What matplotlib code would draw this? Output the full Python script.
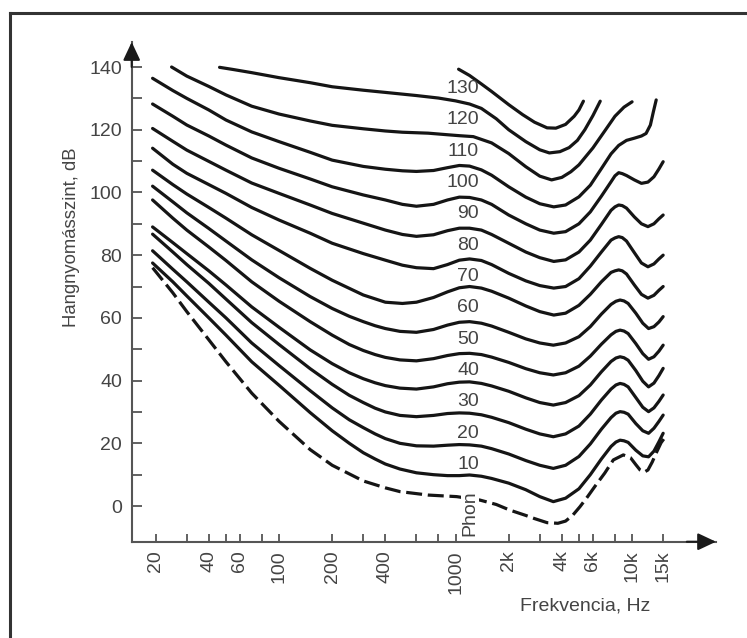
import matplotlib
matplotlib.use('Agg')
import matplotlib.pyplot as plt
from matplotlib.lines import Line2D

plt.rcParams['font.family'] = ['Liberation Sans', 'DejaVu Sans']

# equal loudness contours, frequency in Hz, level in dB
f140 = [1040, 1200, 1400, 1600, 2000, 2400, 2800, 3300, 3700, 4200, 4700, 5000, 5300]
db140 = [139.3, 137.3, 134.6, 132.2, 128, 124.8, 122.4, 120.6, 120.5, 121.7, 124.3, 126.3, 129.1]

f130 = [46, 55, 70, 100, 150, 200, 300, 400, 600, 800, 1000, 1200, 1400, 1700, 2000, 2500,
        3000, 3400, 3900, 4400, 4900, 5400, 6000, 6600]
db130 = [139.9, 139.2, 138.2, 136.6, 135, 133.7, 132.6, 131.9, 130.9, 130.1, 129.2, 128.2,
         126.8, 123.5, 120, 116.2, 113.6, 112.6, 113, 114.3, 116.6, 120, 124.5, 129.1]

f120 = [24.6, 30, 40, 50, 70, 100, 150, 200, 300, 400, 500, 700, 900, 1050, 1260, 1600, 2000,
        2500, 3000, 3500, 4000, 4500, 5000, 6000, 7000, 8000, 9000, 10000]
db120 = [140, 137.1, 133.8, 131.1, 127.5, 125, 122.8, 121.4, 120.3, 119.6, 119.2, 118.9, 118.4,
         118.1, 117.8, 115.8, 112.4, 108.2, 105.2, 104, 104.8, 106.6, 108.8, 114.2, 119.6,
         124.3, 127.2, 128.9]

f110 = [19.2, 25, 30, 40, 50, 70, 100, 150, 200, 300, 400, 500, 600, 750, 900, 1050, 1200,
        1400, 1600, 2000, 2500, 3000, 3600, 4200, 5000, 5800, 6700, 7600, 8400, 9300, 10300,
        11300, 12000, 12700, 13200, 13700]
db110 = [136.4, 132.5, 130, 126.3, 123.1, 119.3, 116.2, 112.8, 110.3, 108.3, 107.4, 106.9,
         106.7, 107, 107.9, 108.6, 108.4, 107.2, 105.5, 101.8, 98.5, 96.4, 95.4, 96, 98.6,
         102.3, 107.6, 112.3, 115, 116.6, 117.3, 118, 118.8, 121.5, 125.7, 129.5]

# curves 100 .. 70 share one frequency list
f_mid = [19.2, 25, 30, 40, 50, 70, 100, 150, 200, 300, 400, 500, 600, 750, 900, 1050, 1200,
         1400, 1600, 2000, 2500, 3000, 3600, 4200, 5000, 5800, 6700, 7600, 8000, 8400, 8800,
         9300, 10300, 11300, 12300, 13300, 14200, 15000]
db100 = [128.2, 124.3, 121.5, 118, 115.1, 111, 107.7, 104.3, 101.8, 99.2, 97.6, 96.2, 95.6,
         96.2, 97.6, 98.5, 98.4, 97.6, 96.2, 92.8, 90, 88, 87, 87.5, 90, 93.8, 98.8, 103.4,
         105.3, 106.3, 106, 105.4, 104, 102.9, 103.3, 105, 107.5, 109.8]
db90 = [120.4, 116.3, 113.5, 109.9, 107.1, 103, 99.7, 96, 93.3, 90.2, 88, 86.6, 86, 86.5, 87.8,
        88.6, 88.6, 88, 86.6, 83.8, 81, 79.2, 78, 78.5, 81, 84.8, 89.8, 94.3, 95.4, 96, 95.8,
        95, 92.2, 90, 89.1, 90, 91.6, 92.8]
db80 = [114.1, 109, 106.1, 102.5, 99.7, 95.2, 91.2, 87, 83.8, 80.5, 78.4, 76.8, 76, 75.7, 77,
        78.4, 78.8, 78.3, 77, 74.2, 71.8, 70.3, 69.5, 70, 72.5, 76.5, 81, 84.8, 85.5, 85.9,
        85.6, 84.5, 80.8, 77.5, 76.3, 77.2, 78.8, 80]
db70 = [107.1, 102.5, 99.5, 95.2, 91.8, 86.5, 81.5, 75.8, 72, 67.3, 65, 64.6, 65, 66.5, 68.3,
        69.6, 70, 69.5, 68.5, 66.3, 63.8, 62, 60.9, 61.5, 64, 67.5, 71.5, 74.5, 75, 75.3, 75,
        74, 70.5, 67.5, 66.3, 67.2, 68.8, 70]

# curves 60 .. 10 share one frequency list
f_low = [19.2, 25, 30, 40, 50, 70, 100, 150, 200, 250, 300, 350, 400, 484, 600, 750, 900,
         1050, 1200, 1400, 1600, 2000, 2500, 3000, 3580, 4200, 5000, 5800, 6700, 7600, 8100,
         8550, 9000, 9500, 10500, 11500, 12400, 13300, 14200, 15000]
db60 = [102, 97, 93.5, 88.5, 84.5, 78.5, 72.8, 66.8, 63, 60.5, 58.8, 57.5, 56.6, 55.7, 55.4,
        56.3, 57.7, 58.6, 58.8, 58.3, 57.4, 55.4, 53.3, 52, 51.3, 52, 54, 57.2, 61.2, 64.3,
        65.3, 65.7, 65.4, 64.6, 61.5, 58.3, 56.6, 57.2, 58.7, 60.4]
db50 = [97.6, 91.8, 88, 82.6, 78.3, 71.5, 65.3, 58.8, 54.5, 51.5, 49.6, 48.3, 47.4, 46.6, 46.3,
        47, 48, 48.6, 48.7, 48.3, 47.5, 45.8, 43.8, 42.5, 41.8, 42.5, 44.6, 47.8, 51.6, 54.6,
        55.7, 56.1, 55.8, 55, 51.8, 48.6, 46.8, 47.6, 49.4, 51.3]
db40 = [89, 84, 80.5, 75, 70.5, 63.5, 57, 49.8, 45.4, 42.5, 40.6, 39.3, 38.4, 37.6, 37.3, 38,
        39, 39.5, 39.6, 39.1, 38.3, 36.6, 34.5, 33, 32.2, 33, 35.2, 38.6, 42.8, 46.1, 47.2,
        47.6, 47.3, 46.5, 43.2, 39.8, 38, 39.2, 41.6, 43.9]
db30 = [86.7, 81, 77, 71, 66, 58.5, 51.5, 43.8, 38.8, 35.3, 33, 31.2, 30, 28.9, 28.5, 28.9,
        29.5, 29.7, 29.6, 29.1, 28.3, 26.6, 24.5, 23, 22.1, 23, 25.5, 29.3, 33.8, 37.3, 38.6,
        39.1, 38.8, 38, 34.6, 31.5, 30.1, 31.3, 33.4, 35.4]
db20 = [81.4, 75.5, 71.5, 65, 60, 52, 44.8, 36.8, 31.3, 27.5, 25, 23, 21.5, 20, 19.2, 19.1,
        19.4, 19.6, 19.5, 19.1, 18.3, 16.6, 14.5, 13, 12, 13, 15.8, 19.8, 24.5, 28.2, 29.6,
        30.1, 29.9, 29.3, 26.3, 24, 23.2, 24.8, 27, 29]
db10 = [77.5, 71.5, 67, 60, 54.5, 46, 38.5, 29.8, 24, 20, 17, 15, 13.4, 11.8, 10.6, 10, 9.7,
        9.7, 9.9, 9.5, 8.8, 7.3, 5.2, 3, 1.4, 2.5, 5.5, 10, 15, 19, 20.4, 21, 20.8, 20.3, 17.8,
        16, 15.7, 17.5, 20.5, 23.2]

# hearing threshold (dashed)
f_thr = [19.2, 25, 30, 40, 50, 70, 100, 150, 200, 300, 400, 484, 700, 1015, 1374, 1700, 2030,
         2500, 2800, 3300, 3800, 4200, 4600, 5070, 5600, 6200, 7000, 7830, 8920, 9800, 10500,
         11100, 11700, 12300, 13000, 13800, 14600, 15700]
db_thr = [76, 68, 62, 53, 46, 36, 27, 18, 13, 8, 5.8, 4.6, 3.5, 3.0, 1.9, 0.5, -1.3, -3, -4,
          -5.3, -5.5, -4.8, -3, -0.2, 3, 6.5, 10.5, 14.7, 16.3, 15.4, 13.2, 11.5, 10.8, 11.5,
          14, 17.3, 20.2, 22.6]

curves = [(f140, db140), (f130, db130), (f120, db120), (f110, db110), (f_mid, db100),
          (f_mid, db90), (f_mid, db80), (f_mid, db70), (f_low, db60), (f_low, db50),
          (f_low, db40), (f_low, db30), (f_low, db20), (f_low, db10)]
phon = [130, 120, 110, 100, 90, 80, 70, 60, 50, 40, 30, 20, 10]

x_major = [20, 40, 60, 100, 200, 400, 1000, 2000, 4000, 6000, 10000, 15000]
x_labels = ['20', '40', '60', '100', '200', '400', '1000', '2k', '4k', '6k', '10k', '15k']
x_minor = [30, 50, 80, 300, 600, 800, 3000, 5000, 8000]
y_major = [0, 20, 40, 60, 80, 100, 120, 140]
y_minor = [10, 30, 50, 70, 90, 110, 130]

axis_col = '#555555'
text_col = '#444444'
line_col = '#151515'

fig = plt.figure(figsize=(7.47, 6.38), dpi=100)
ax = fig.add_axes([0.1763, 0.1509, 0.7822, 0.7832])
ax.set_xscale('log')

for f, db in curves:
    ax.plot(f, db, color=line_col, lw=2.3, solid_capstyle='round', solid_joinstyle='round')
ax.plot(f_thr, db_thr, color=line_col, lw=2.3, linestyle=(0, (5, 1.8)))

ax.set_xlim(14.62, 29890)
ax.set_ylim(-11.38, 147.96)

for p in phon:
    ax.text(1358, p + 3.2, str(p), ha='right', va='center', fontsize=14, color=text_col)
ax.text(1208, -2.2, 'Phon', rotation=90, ha='center', va='center', fontsize=14,
        color=text_col, bbox=dict(facecolor='white', edgecolor='none', pad=0.5))

ax.set_xticks(x_major, labels=x_labels, rotation=90)
ax.set_xticks(x_minor, minor=True)
ax.xaxis.set_minor_formatter(plt.NullFormatter())
ax.set_yticks(y_major)
ax.set_yticks(y_minor, minor=True)
ax.tick_params(which='both', direction='in', colors=axis_col, width=1.3, labelsize=14,
               labelcolor=text_col)
ax.tick_params(axis='x', which='both', length=6, pad=6)
ax.tick_params(axis='y', which='both', length=7, pad=7)

for side in ['top', 'right']:
    ax.spines[side].set_visible(False)
for side in ['left', 'bottom']:
    ax.spines[side].set_color(axis_col)
    ax.spines[side].set_linewidth(1.5)

arrow = dict(arrowstyle='-|>,head_length=0.85,head_width=0.4', color='#1a1a1a',
             lw=1.5, shrinkA=0, shrinkB=0, mutation_scale=13)
ax.annotate('', xy=(0, 1), xytext=(0, 0.95), xycoords='axes fraction',
            arrowprops=arrow, annotation_clip=False)
ax.annotate('', xy=(1, 0), xytext=(0.95, 0), xycoords='axes fraction',
            arrowprops=arrow, annotation_clip=False)

ax.set_ylabel('Hangnyomásszint, dB', fontsize=13.3, color=text_col)
ax.yaxis.set_label_coords(-0.088, 0.61)
fig.text(0.783, 0.05, 'Frekvencia, Hz', ha='center', va='center', fontsize=14, color=text_col)

# frame around the picture (cut off at right and bottom)
x0 = 10 / 747
y0 = 1 - 13 / 638
fig.add_artist(Line2D([x0, x0], [0, y0], color='#333333', lw=2.2))
fig.add_artist(Line2D([x0, 1], [y0, y0], color='#333333', lw=2.2))

fig.savefig('out.png', dpi=100)
